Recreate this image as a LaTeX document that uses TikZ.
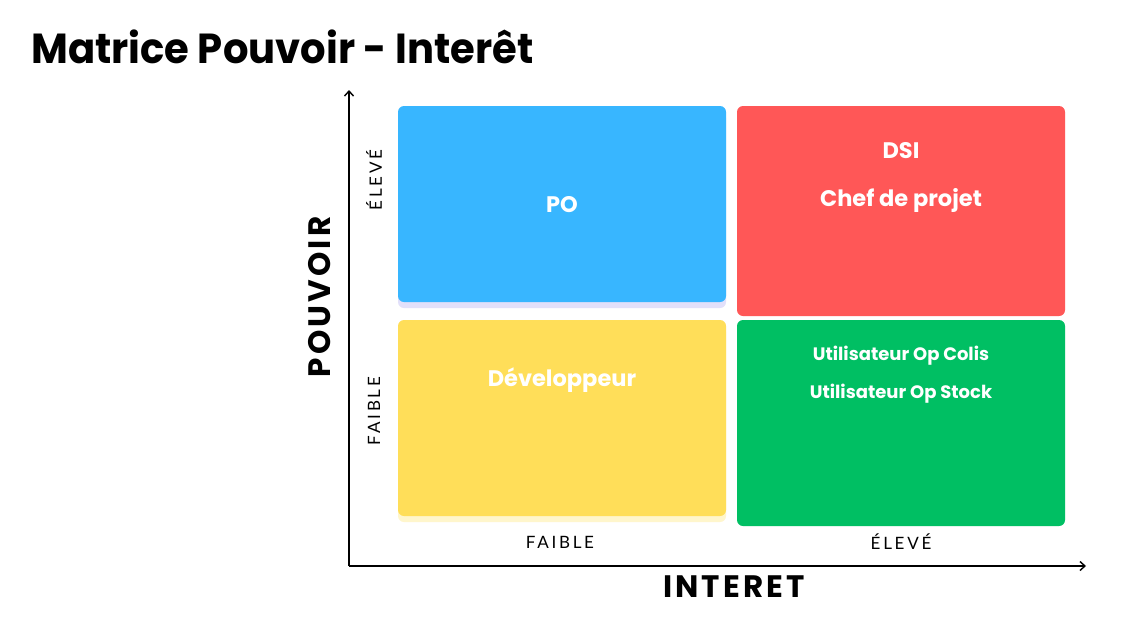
\documentclass[tikz,border=0pt]{standalone}
\usepackage{fontspec}
\setmainfont{Poppins}
\newfontfamily\titlefont[FakeStretch=0.955]{Poppins}
\newfontfamily\axisfont[LetterSpace=16]{Lato}
\newfontfamily\headfont[LetterSpace=10]{Poppins}
\usetikzlibrary{arrows.meta}
\definecolor{qblue}{HTML}{38B6FF}
\definecolor{qred}{HTML}{FF5757}
\definecolor{qyellow}{HTML}{FFDE59}
\definecolor{qgreen}{HTML}{00BF63}
\definecolor{qblueshade}{HTML}{E2E0FA}
\definecolor{qyellowshade}{HTML}{FFF6CC}
\tikzset{
  quad/.style={rounded corners=6pt, minimum width=328pt, inner sep=0pt, draw=none},
  boxtext/.style={text=white, font=\bfseries\fontsize{22.5}{26}\selectfont, inner sep=0pt},
  smalltext/.style={text=white, font=\bfseries\fontsize{18}{22}\selectfont, inner sep=0pt},
  axislabel/.style={font=\axisfont\fontsize{17}{20}\selectfont, inner sep=0pt},
  axistitle/.style={font=\headfont\bfseries\fontsize{31}{36}\selectfont, inner sep=0pt},
  axisline/.style={line width=1.4pt, -{Straight Barb[length=5pt,width=9pt,line width=1.4pt]}}
}
\begin{document}
\begin{tikzpicture}[x=1pt,y=-1pt]
\useasboundingbox[fill=white] (0,0) rectangle (1124,616);

% title
\node[anchor=base west, inner sep=0pt, font=\titlefont\bfseries\fontsize{42}{48}\selectfont] (title) at (31,63) {Matrice Pouvoir - Interêt};

% axes
\coordinate (origin) at (349,566);
\coordinate (ytip) at (349,90);
\coordinate (xtip) at (1086,566);
\draw[axisline] (origin) -- (ytip);
\draw[axisline] (origin) -- (xtip);

% shadows under the left quadrants
\node[quad, fill=qblueshade, minimum height=196pt] (blueshade) at (562,210) {};
\node[quad, fill=qyellowshade, minimum height=196pt] (yellowshade) at (562,424) {};

% quadrants
\node[quad, fill=qblue, minimum height=196pt] (po) at (562,204) {};
\node[quad, fill=qred, minimum height=210pt] (dsi) at (901,211) {};
\node[quad, fill=qyellow, minimum height=196pt] (dev) at (562,418) {};
\node[quad, fill=qgreen, minimum height=206pt] (users) at (901,423) {};

% quadrant texts
\node[boxtext] (potxt) at (562,205) {PO};
\node[boxtext] (dsitxt) at (901,151) {DSI};
\node[boxtext] (cdptxt) at (901,200) {Chef de projet};
\node[boxtext] (devtxt) at (562,380) {Développeur};
\node[smalltext] (colis) at (901,356) {Utilisateur Op Colis};
\node[smalltext] (stock) at (901,394) {Utilisateur Op Stock};

% axis graduations
\node[axislabel] (xlow) at (560,542) {FAIBLE};
\node[axislabel] (xhigh) at (901,542) {ÉLEVÉ};
\node[axislabel, rotate=90] (yhigh) at (374,180) {ÉLEVÉ};
\node[axislabel, rotate=90] (ylow) at (374,411) {FAIBLE};

% axis titles
\node[axistitle] (xtitle) at (734,587) {INTERET};
\node[axistitle, rotate=90] (ytitle) at (320,297) {POUVOIR};
\end{tikzpicture}
\end{document}
